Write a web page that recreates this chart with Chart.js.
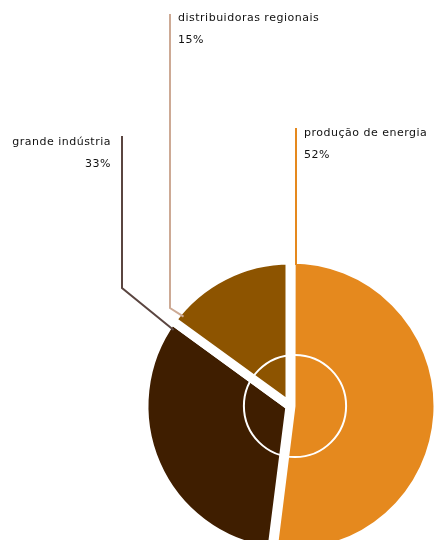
<!DOCTYPE html>
<html>
<head>
<meta charset="utf-8">
<script src="https://cdn.jsdelivr.net/npm/chart.js@4/dist/chart.umd.min.js"></script>
<style>
  html, body { margin: 0; padding: 0; background: #fff; overflow: hidden; }
  #wrap { width: 435px; height: 540px; overflow: hidden; }
</style>
</head>
<body>
<div id="wrap"><canvas id="myChart" width="450" height="700"></canvas></div>
<script>
var categories = ["produção de energia", "grande indústria", "distribuidoras regionais"];
var shares = [52, 33, 15];
var sliceColors = ["#E5891E", "#3F1E00", "#8D5400"];
var lineColors = ["#E5891E", "#5A4540", "#CDAA95"];

// where the label and the leader line sit for each slice
var labelSpots = [
  { textX: 304, textY: 133, align: "left", lineX: 296, lineTop: 128, elbowY: null, edge: "start" },
  { textX: 111, textY: 142, align: "right", lineX: 122, lineTop: 136, elbowY: 288, edge: "end" },
  { textX: 178, textY: 18, align: "left", lineX: 170, lineTop: 14, elbowY: 308, edge: "start" }
];

var leaderPlugin = {
  id: "leaders",
  afterDatasetsDraw: function(chart) {
    var ctx = chart.ctx;
    var arcs = chart.getDatasetMeta(0).data;
    var c = arcs[0];

    // white ring in the middle
    ctx.save();
    ctx.beginPath();
    ctx.arc(c.x + 5, c.y, c.outerRadius * 0.35, 0, Math.PI * 2);
    ctx.strokeStyle = "#ffffff";
    ctx.lineWidth = 2;
    ctx.stroke();
    ctx.restore();

    labelSpots.forEach(function(s, i) {
      var a = arcs[i];
      ctx.save();
      ctx.strokeStyle = lineColors[i];
      ctx.lineWidth = 2;
      ctx.beginPath();
      ctx.moveTo(s.lineX, s.lineTop);
      if (s.elbowY === null) {
        ctx.lineTo(s.lineX, a.y - a.outerRadius + 5);
      } else {
        var ang = s.edge === "end" ? a.endAngle - 0.05 : a.startAngle + 0.07;
        var ex = a.x + Math.cos(ang) * (a.outerRadius - 7);
        var ey = a.y + Math.sin(ang) * (a.outerRadius - 7);
        ctx.lineTo(s.lineX, s.elbowY);
        ctx.lineTo(ex, ey);
      }
      ctx.stroke();

      ctx.fillStyle = "#111111";
      ctx.font = "11px 'DejaVu Sans'";
      ctx.letterSpacing = "0.5px";
      ctx.textAlign = s.align;
      ctx.textBaseline = "middle";
      ctx.fillText(categories[i], s.textX, s.textY);
      ctx.fillText(shares[i] + "%", s.textX, s.textY + 22);
      ctx.restore();
    });
  }
};

new Chart("myChart", {
  type: "pie",
  data: {
    labels: categories,
    datasets: [{
      data: shares,
      backgroundColor: sliceColors,
      borderColor: "#ffffff",
      borderWidth: 9,
      offset: [4, 0, 0],
      hoverOffset: 0
    }]
  },
  options: {
    responsive: false,
    animation: false,
    radius: 146,
    layout: { padding: { left: 144, right: 14, top: 260, bottom: 148 } },
    plugins: {
      legend: { display: false },
      tooltip: { enabled: false }
    }
  },
  plugins: [leaderPlugin]
});
</script>
</body>
</html>
